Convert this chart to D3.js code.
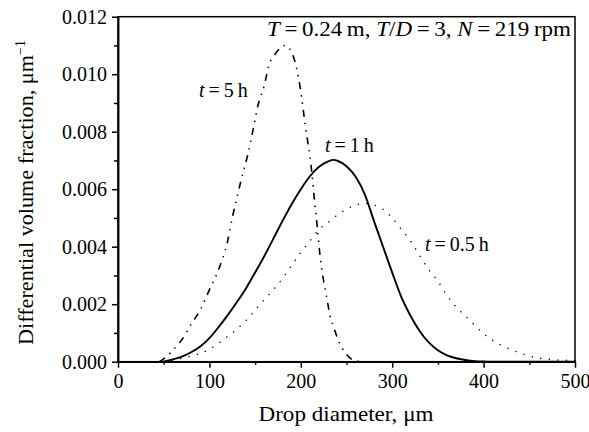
<!DOCTYPE html>
<html>
<head>
<meta charset="utf-8">
<script src="https://cdn.jsdelivr.net/npm/d3@7"></script>
<style>
  body { margin: 0; background: #fff; }
  text { font-family: "Liberation Serif", serif; fill: #000; }
</style>
</head>
<body>
<svg id="chart"></svg>
<script>
var svg_width = 589
var svg_height = 432
var plot_left = 118, plot_right = 575, plot_top = 16.7, plot_bottom = 361.7

// drop diameter (um) and differential volume fraction (1/um)
var d_half = [50, 60, 70, 80, 90, 100, 110, 120, 130, 140, 150, 160, 170, 180, 190, 200,
              210, 220, 230, 240, 250, 260, 270, 280, 290, 300, 310, 320, 330, 340, 350,
              360, 370, 380, 390, 400, 410, 420, 430, 440, 450, 460, 470, 480, 490, 500]
var v_half = [0, 0.00005, 0.00012, 0.0002, 0.00029, 0.00043, 0.00064, 0.00088, 0.00113, 0.00143,
              0.0018, 0.00215, 0.0025, 0.0029, 0.00335, 0.0038, 0.0042, 0.0046, 0.00485, 0.0051,
              0.0053, 0.00545, 0.0055, 0.00545, 0.0053, 0.005, 0.0046, 0.0042, 0.0037, 0.0032,
              0.0028, 0.0023, 0.0019, 0.0016, 0.00128, 0.00097, 0.00074, 0.00056, 0.00042, 0.0003,
              0.0002, 0.00013, 0.00009, 0.00006, 0.00005, 0.00004]

var d_one = [49, 60, 70, 80, 90, 100, 110, 120, 130, 140, 150, 160, 170, 180, 190, 200, 210,
             220, 230, 236, 240, 250, 260, 270, 280, 290, 300, 310, 320, 330, 340, 350,
             360, 370, 380, 390, 400, 420, 500]
var v_one = [0, 0.00008, 0.00018, 0.00033, 0.00053, 0.00082, 0.0012, 0.00162, 0.00207, 0.00255,
             0.0031, 0.00367, 0.00428, 0.0049, 0.00548, 0.006, 0.00645, 0.00678, 0.00697, 0.00702,
             0.00699, 0.0068, 0.00643, 0.00582, 0.0049, 0.004, 0.0031, 0.00225, 0.0016, 0.00107,
             0.00067, 0.0004, 0.00022, 0.00012, 0.00006, 0.00002, 0.000005, 0, 0]

var d_five = [45, 50, 57, 60, 70, 80, 90, 100, 110, 120, 125, 130, 137, 142, 148, 153, 160, 165,
              172, 183, 192, 199, 205, 212, 215, 218, 221, 225, 228, 232, 236, 241, 250, 260, 270, 500]
var v_five = [0, 0.0001, 0.0003, 0.0004, 0.00077, 0.0013, 0.0018, 0.0025, 0.0032, 0.0042, 0.005,
              0.0057, 0.0066, 0.0072, 0.0081, 0.0089, 0.0096, 0.0103, 0.0107, 0.011, 0.0106,
              0.0096, 0.0082, 0.0066, 0.0056, 0.0047, 0.0037, 0.0028, 0.0023, 0.0016, 0.0012,
              0.00075, 0.00025, 0.00003, 0, 0]

var x_ticks = [0, 100, 200, 300, 400, 500]
var x_minor = [50, 150, 250, 350, 450]
var y_ticks = [0, 0.002, 0.004, 0.006, 0.008, 0.010, 0.012]
var y_minor = [0.001, 0.003, 0.005, 0.007, 0.009, 0.011]

var svg = d3.select("#chart")
    .attr("width", svg_width)
    .attr("height", svg_height)

//SCALES
var xScale = d3.scaleLinear().domain([0, 500]).range([plot_left, plot_right])
var yScale = d3.scaleLinear().domain([0, 0.012]).range([plot_bottom, plot_top])

// frame
svg.append("rect")
    .attr("x", plot_left)
    .attr("y", plot_top)
    .attr("width", plot_right - plot_left)
    .attr("height", plot_bottom - plot_top)
    .attr("fill", "none")
    .attr("stroke", "#000")
    .attr("stroke-width", 1.5)

// curves
function curve(xs, ys) {
    return d3.line()
        .x(function(d, i) { return xScale(xs[i]) })
        .y(function(d) { return yScale(d) })
        .curve(d3.curveMonotoneX)(ys)
}

svg.append("path")
    .attr("d", curve(d_half, v_half))
    .attr("fill", "none")
    .attr("stroke", "#000")
    .attr("stroke-width", 1.4)
    .attr("stroke-linecap", "round")
    .attr("stroke-dasharray", "0.1,8.5")

svg.append("path")
    .attr("d", curve(d_five, v_five))
    .attr("fill", "none")
    .attr("stroke", "#000")
    .attr("stroke-width", 1.6)
    .attr("stroke-dasharray", "7,6,1.4,6,1.4,6")

svg.append("path")
    .attr("d", curve(d_one, v_one))
    .attr("fill", "none")
    .attr("stroke", "#000")
    .attr("stroke-width", 1.9)

// AXES
var xAxis = d3.axisBottom(xScale).tickValues(x_ticks).tickSize(6).tickSizeOuter(0).tickPadding(6)
var xAxisMinor = d3.axisBottom(xScale).tickValues(x_minor).tickSize(3).tickSizeOuter(0).tickFormat("")
var yAxis = d3.axisLeft(yScale).tickValues(y_ticks).tickSize(6).tickSizeOuter(0).tickPadding(5)
    .tickFormat(d3.format(".3f"))
var yAxisMinor = d3.axisLeft(yScale).tickValues(y_minor).tickSize(4).tickSizeOuter(0).tickFormat("")

var axes = [
    [xAxis, "translate(0," + plot_bottom + ")"],
    [xAxisMinor, "translate(0," + plot_bottom + ")"],
    [yAxis, "translate(" + plot_left + ",0)"],
    [yAxisMinor, "translate(" + plot_left + ",0)"]
]
axes.forEach(function(a) {
    var g = svg.append("g").attr("transform", a[1]).call(a[0])
    g.attr("font-family", null)
    g.selectAll("path, line").attr("stroke", "#000").attr("stroke-width", 1.5)
    g.selectAll("text")
        .style("font-family", "'Liberation Serif', serif")
        .style("font-size", "20px")
})

// labels
svg.append("text")
    .attr("x", 346)
    .attr("y", 421)
    .attr("text-anchor", "middle")
    .attr("font-size", 21)
    .attr("textLength", 175)
    .attr("lengthAdjust", "spacingAndGlyphs")
    .text("Drop diameter, \u03bcm")

var ylab = svg.append("text")
    .attr("transform", "translate(33,345) rotate(-90)")
    .attr("font-size", 21)
ylab.append("tspan").text("Differential volume fraction, \u03bcm")
    .attr("textLength", 290).attr("lengthAdjust", "spacingAndGlyphs")
ylab.append("tspan").attr("dy", -8).attr("font-size", 14).text("\u22121")

// math-style annotations: parts flagged true are italic
function mathText(x, y, parts) {
    var t = svg.append("text").attr("x", x).attr("y", y).attr("font-size", 20)
    parts.forEach(function(p) {
        var s = t.append("tspan").text(p[0])
        if (p[1]) s.attr("font-style", "italic")
    })
    return t
}

mathText(267, 36, [["T", true], ["\u2009=\u20090.24\u2009m,  ", false], ["T", true], ["/", false],
                   ["D", true], ["\u2009=\u20093, ", false], ["N", true], ["\u2009=\u2009219\u2009rpm", false]])
    .attr("textLength", 304).attr("lengthAdjust", "spacingAndGlyphs")
mathText(199, 97, [["t", true], ["\u2009=\u20095\u2009h", false]])
mathText(325, 152, [["t", true], ["\u2009=\u20091\u2009h", false]])
mathText(425, 251, [["t", true], ["\u2009=\u20090.5\u2009h", false]])
</script>
</body>
</html>
